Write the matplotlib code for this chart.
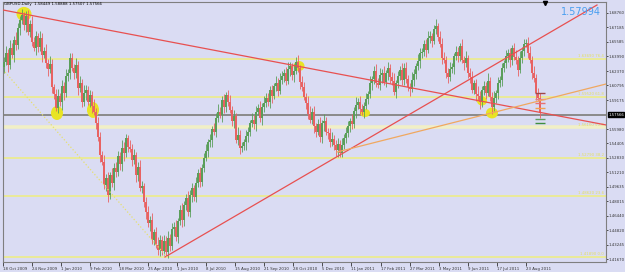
import numpy as np
import matplotlib
matplotlib.use("Agg")
import matplotlib.pyplot as plt
from matplotlib.patches import Ellipse
from matplotlib.transforms import blended_transform_factory

# GBPUSD daily closes, Oct 2009 - Sep 2011 (one candle per ~2 days)
closes = [
    1.634, 1.644, 1.630, 1.649, 1.641, 1.658, 1.652, 1.671, 1.680, 1.685,
    1.674, 1.684, 1.667, 1.676, 1.656, 1.649, 1.662, 1.650, 1.660, 1.641,
    1.646, 1.632, 1.626, 1.631, 1.606, 1.598, 1.583, 1.596, 1.590, 1.607,
    1.599, 1.618, 1.622, 1.638, 1.627, 1.621, 1.630, 1.605, 1.611, 1.590,
    1.599, 1.603, 1.590, 1.597, 1.585, 1.579, 1.566, 1.551, 1.531, 1.524,
    1.498, 1.506, 1.487, 1.509, 1.500, 1.517, 1.512, 1.530, 1.521, 1.539,
    1.533, 1.550, 1.540, 1.538, 1.526, 1.531, 1.509, 1.518, 1.495, 1.497,
    1.480, 1.468, 1.456, 1.460, 1.438, 1.446, 1.432, 1.427, 1.438, 1.425,
    1.436, 1.424, 1.440, 1.431, 1.450, 1.452, 1.441, 1.458, 1.471, 1.460,
    1.476, 1.484, 1.468, 1.487, 1.495, 1.485, 1.500, 1.511, 1.502, 1.517,
    1.528, 1.536, 1.545, 1.548, 1.560, 1.557, 1.572, 1.579, 1.575, 1.592,
    1.584, 1.597, 1.590, 1.581, 1.569, 1.574, 1.548, 1.553, 1.539, 1.541,
    1.545, 1.552, 1.557, 1.566, 1.570, 1.565, 1.579, 1.583, 1.572, 1.584,
    1.588, 1.594, 1.590, 1.603, 1.596, 1.607, 1.611, 1.602, 1.614, 1.618,
    1.622, 1.613, 1.626, 1.629, 1.619, 1.624, 1.634, 1.627, 1.612, 1.606,
    1.595, 1.589, 1.576, 1.570, 1.579, 1.563, 1.557, 1.565, 1.551, 1.566,
    1.569, 1.557, 1.555, 1.545, 1.549, 1.542, 1.537, 1.543, 1.533, 1.542,
    1.550, 1.555, 1.563, 1.569, 1.565, 1.580, 1.586, 1.590, 1.582, 1.579,
    1.585, 1.593, 1.598, 1.610, 1.615, 1.624, 1.611, 1.608, 1.619, 1.622,
    1.612, 1.621, 1.627, 1.617, 1.613, 1.601, 1.610, 1.618, 1.625, 1.614,
    1.627, 1.615, 1.606, 1.604, 1.614, 1.620, 1.629, 1.635, 1.643, 1.645,
    1.654, 1.647, 1.660, 1.662, 1.657, 1.670, 1.673, 1.661, 1.654, 1.638,
    1.636, 1.622, 1.617, 1.626, 1.628, 1.640, 1.645, 1.640, 1.651, 1.636,
    1.632, 1.638, 1.621, 1.617, 1.603, 1.610, 1.598, 1.596, 1.590, 1.603,
    1.607, 1.600, 1.613, 1.595, 1.584, 1.594, 1.599, 1.610, 1.614, 1.627,
    1.632, 1.640, 1.643, 1.636, 1.649, 1.639, 1.636, 1.625, 1.638, 1.646,
    1.654, 1.655, 1.644, 1.636, 1.622, 1.616, 1.599, 1.594, 1.577,
]
first_open = 1.628

# upper / lower shadows in pips
wick_up = [
    50, 70, 35, 85, 55, 40, 90, 60, 45, 75, 35, 55, 70, 40, 80, 50, 60, 35, 75, 55,
    40, 70, 50, 90, 60, 35, 55, 75, 40, 70, 45, 80, 35, 60, 55, 40, 75, 50, 70, 35,
    90, 55, 40, 60, 50, 80, 35, 70, 55, 45, 75, 40, 60, 35, 80, 50, 70, 55, 40, 90,
    60, 45, 35, 75, 55, 70, 40, 50, 80, 60, 35, 55, 70, 45, 75, 40, 60, 90, 50, 35,
    70, 55, 80, 40, 60, 50, 75, 35, 55, 70, 45, 40, 80, 60, 55, 35, 75, 50, 70, 40,
    55, 75, 40, 60, 35, 70, 50, 80, 55, 40, 60, 35, 55, 75, 45, 70, 40, 90, 60, 50,
    40, 70, 50, 35, 80, 55, 60, 40, 75, 45, 80, 50, 60, 40, 55, 35, 70, 45, 75, 55,
    35, 60, 80, 45, 40, 70, 55, 75, 35, 60, 55, 40, 70, 90, 45, 60, 35, 55, 80, 40,
    70, 45, 35, 60, 75, 40, 55, 70, 45, 80, 40, 75, 55, 35, 70, 45, 90, 40, 60, 55,
    45, 60, 40, 80, 35, 55, 70, 45, 75, 35, 75, 35, 70, 45, 60, 80, 40, 55, 45, 70,
    55, 70, 45, 40, 90, 60, 35, 75, 55, 45, 35, 55, 75, 60, 40, 45, 80, 35, 70, 60,
    70, 40, 55, 80, 45, 35, 60, 55, 40, 75, 45, 75, 35, 55, 70, 40, 45, 90, 60, 40,
    60, 45, 80, 40, 55, 75, 35, 70, 45, 55, 40, 70, 45, 60, 35, 55, 75, 40, 80, 45,
    55, 35, 60, 75, 45, 70, 40, 60, 55, 45,
]
wick_dn = [
    60, 40, 75, 45, 35, 70, 55, 40, 80, 45, 55, 75, 40, 60, 45, 35, 80, 55, 40, 70,
    35, 45, 80, 40, 70, 55, 35, 60, 45, 90, 70, 40, 55, 75, 35, 60, 45, 80, 40, 55,
    45, 75, 35, 55, 70, 40, 60, 45, 80, 35, 40, 60, 80, 45, 35, 70, 55, 40, 60, 75,
    80, 35, 55, 40, 70, 45, 75, 60, 35, 55, 55, 70, 40, 80, 45, 60, 35, 55, 75, 40,
    35, 45, 60, 55, 40, 75, 45, 70, 40, 80, 75, 55, 35, 45, 70, 40, 60, 35, 55, 45,
    45, 35, 70, 55, 80, 40, 60, 45, 35, 70, 70, 55, 45, 35, 60, 80, 40, 55, 70, 40,
    40, 80, 60, 45, 35, 55, 70, 40, 45, 75, 55, 40, 45, 70, 75, 35, 55, 60, 40, 45,
    60, 45, 40, 75, 55, 70, 35, 45, 80, 40, 35, 70, 55, 40, 45, 75, 60, 40, 55, 70,
    80, 40, 60, 45, 35, 55, 70, 75, 40, 45, 45, 60, 35, 70, 55, 40, 80, 45, 60, 35,
    70, 35, 55, 40, 75, 60, 45, 35, 55, 80, 40, 55, 75, 60, 45, 35, 70, 55, 40, 60,
    60, 40, 45, 80, 35, 70, 55, 40, 75, 45, 45, 75, 40, 55, 70, 35, 60, 45, 40, 70,
    35, 55, 70, 40, 45, 80, 40, 60, 55, 35, 75, 40, 55, 60, 35, 45, 70, 40, 80, 55,
    55, 70, 35, 45, 75, 40, 55, 60, 35, 70, 40, 45, 60, 80, 55, 35, 45, 70, 40, 55,
    60, 35, 55, 40, 70, 45, 75, 35, 55, 60,
]

# right axis price labels
price_ticks = [1.68760, 1.67185, 1.65585, 1.63990, 1.62370, 1.60795, 1.59175,
               1.55980, 1.54405, 1.52830, 1.51210, 1.49635, 1.48015, 1.46440,
               1.44820, 1.43245, 1.41670]
date_labels = ["18 Oct 2009", "24 Nov 2009", "1 Jan 2010", "9 Feb 2010", "18 Mar 2010",
               "25 Apr 2010", "1 Jun 2010", "8 Jul 2010", "15 Aug 2010", "21 Sep 2010",
               "28 Oct 2010", "5 Dec 2010", "11 Jan 2011", "17 Feb 2011", "27 Mar 2011",
               "3 May 2011", "9 Jun 2011", "17 Jul 2011", "23 Aug 2011"]

# fibonacci retracement levels
fib_levels = [1.4189, 1.4862, 1.5279, 1.5616, 1.5952, 1.6369]
fib_pcts = ["0.0", "23.6", "38.2", "50.0", "61.8", "76.4"]

current_price = 1.57566
header = "GBPUSD,Daily  1.58449 1.58888 1.57507 1.57566"
alert_price = "1.57994"

# trendlines: (bar0, price0, bar1, price1)
red_down = (-0.5, 1.6909, 301.0, 1.5643)
red_up = (80.5, 1.4189, 296.5, 1.6964)
orange_up = (166.5, 1.5345, 301.0, 1.6094)
dotted_fan = (0.5, 1.6226, 81.5, 1.4189)

# highlighted touches (bar, price)
touch_bars = [10, 26.5, 44.5, 147.5, 180.5, 239, 244]
touch_prices = [1.6865, 1.5775, 1.5808, 1.6292, 1.5775, 1.5907, 1.5775]
touch_sizes = [(7.5, 0.0155), (6, 0.0155), (6, 0.0175), (5.5, 0.011), (5, 0.009), (5, 0.010), (6, 0.012)]

# small level marks on the last candle
mark_prices = [1.5995, 1.5929, 1.5885, 1.5830, 1.5709, 1.5665]
mark_colors = ["#a04848", "#e88080", "#e87070", "#f0a050", "#60a060", "#3f8f3f"]

BG = "#dadcf3"
UP = "#5a9e5a"
DN = "#e86262"
FIB = "#eeee80"
SMALL = "DejaVu Sans"
FS = 2.8

fig = plt.figure(figsize=(6.25, 2.72), dpi=100, facecolor=BG)
ax = fig.add_axes([3 / 625, 10 / 272, 603 / 625, 260 / 272])
ax.set_facecolor(BG)
ax.set_xlim(-0.5, 301)
ax.set_ylim(1.4134, 1.6997)

# horizontal levels
for lvl, pct in zip(fib_levels, fib_pcts):
    if pct == "50.0":
        ax.axhline(lvl, color="#f1efc6", lw=2.6, zorder=1)
    else:
        ax.axhline(lvl, color=FIB, lw=1.1, zorder=1)
    ax.text(300, lvl + 0.0008, f"{lvl:.5f} {pct}", color="#e4e060", fontsize=FS,
            family=SMALL, ha="right", va="bottom", zorder=2)
ax.axhline(current_price, color="#8a8a8a", lw=1.4, zorder=1)

# highlighted touches
for b, p, (w, h) in zip(touch_bars, touch_prices, touch_sizes):
    ax.add_patch(Ellipse((b, p), w, h, color="#e8e424", lw=0, zorder=2))

# candles
n = len(closes)
x = np.arange(n)
c = np.array(closes)
o = np.array([first_open] + closes[:-1])
hi = np.maximum(o, c) + np.array(wick_up[:n]) / 10000
lo = np.minimum(o, c) - np.array(wick_dn[:n]) / 10000
cols = [UP if cc >= oo else DN for oo, cc in zip(o, c)]
ax.vlines(x, lo, hi, colors=cols, lw=0.6, zorder=3)
ax.bar(x, c - o, bottom=o, width=0.7, color=cols, lw=0, zorder=3)

for p, col in zip(mark_prices, mark_colors):
    ax.hlines(p, 265.5, 270.5, colors=col, lw=1.0, zorder=4)

# trendlines
for (x0, y0, x1, y1), col, ls in [(red_down, "#e85050", "-"), (red_up, "#e85050", "-"),
                                   (orange_up, "#f0a860", "-"), (dotted_fan, "#e6e070", ":")]:
    ax.plot([x0, x1], [y0, y1], color=col, lw=0.9, ls=ls, zorder=4)

ax.text(288.5, 1.6889, alert_price, color="#4a9ff0", fontsize=7, ha="center", va="center", zorder=5)
ax.plot([270.5], [1.6985], marker="v", color="black", ms=3, clip_on=False, zorder=5)

# axes styling
for sp in ax.spines.values():
    sp.set_color("#7f7f7f")
    sp.set_linewidth(0.8)
ax.yaxis.tick_right()
ax.set_yticks(price_ticks)
ax.set_yticklabels([f"{v:.5f}" for v in price_ticks], fontsize=FS, family=SMALL)
ax.tick_params(axis="y", length=1.5, width=0.6, pad=0.4, colors="#333333")

tick_pos = -0.5 + 14.52 * np.arange(len(date_labels))
ax.set_xticks(tick_pos)
ax.set_xticklabels(date_labels, fontsize=FS, family=SMALL, ha="left")
ax.tick_params(axis="x", length=3, width=0.6, pad=0.5, colors="#333333")

tr = blended_transform_factory(ax.transAxes, ax.transData)
ax.text(1.0035, current_price, f"{current_price:.5f}", transform=tr, color="white",
        fontsize=FS, family=SMALL, ha="left", va="center",
        bbox=dict(fc="black", ec="black", pad=0.4), zorder=6, clip_on=False)

fig.text(4 / 625, 1 - 2 / 272, header, fontsize=FS, family=SMALL, ha="left", va="top")

fig.savefig("out.png", dpi=100, facecolor=BG)
